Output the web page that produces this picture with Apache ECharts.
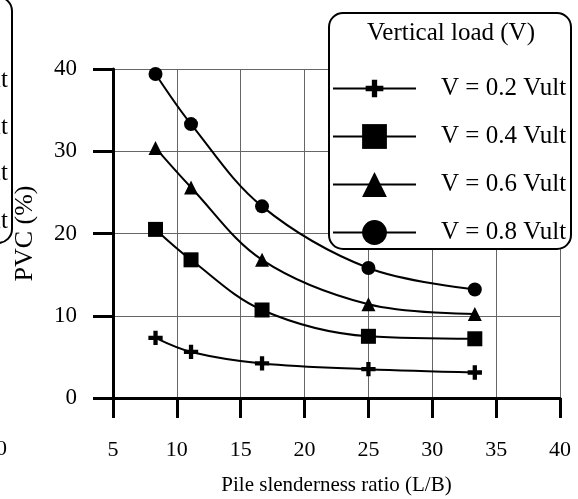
<!DOCTYPE html>
<html>
<head>
<meta charset="utf-8">
<script src="https://cdn.jsdelivr.net/npm/echarts@6/dist/echarts.min.js"></script>
<style>
  html, body { margin: 0; padding: 0; background: #fff; }
  #main { width: 578px; height: 499px; }
</style>
</head>
<body>
<div id="main"></div>
<script>
// slenderness ratios L/B
var xs = [8.33, 11.11, 16.67, 25, 33.33];
// PVC (%) per vertical load level
var v02 = [7.3, 5.6, 4.2, 3.5, 3.1];
var v04 = [20.5, 16.8, 10.7, 7.5, 7.2];
var v06 = [30.4, 25.6, 16.8, 11.4, 10.2];
var v08 = [39.4, 33.3, 23.3, 15.8, 13.2];
var names = ["V = 0.2 Vult", "V = 0.4 Vult", "V = 0.6 Vult", "V = 0.8 Vult"];

var font = "Liberation Serif";
// plus sign, with empty margin so it is drawn a bit smaller than the box
var plus = "path://M-4 -4M24 24M7 0H13V7H20V13H13V20H7V13H0V7H7Z";

function pairs(ys) {
  return xs.map(function (x, i) { return [x, ys[i]]; });
}

function mkSeries(name, ys, symbol, size) {
  return {
    name: name,
    type: "line",
    data: pairs(ys),
    smooth: 0.35,
    symbol: symbol,
    symbolSize: size,
    showSymbol: true,
    lineStyle: { color: "#000", width: 2 },
    itemStyle: { color: "#000" }
  };
}

var chart = echarts.init(document.getElementById("main"));
var option = {
  animation: false,
  textStyle: { fontFamily: font, color: "#000" },
  grid: { left: 113, right: 18, top: 69, bottom: 101, outerBoundsMode: "none", containLabel: false },
  xAxis: {
    type: "value",
    min: 5, max: 40, interval: 5,
    name: "Pile slenderness ratio (L/B)",
    nameLocation: "middle",
    nameGap: 77,
    nameTextStyle: { fontSize: 21, color: "#000", fontFamily: font },
    axisLine: { show: true, onZero: false, lineStyle: { color: "#000", width: 3 } },
    axisTick: { show: true, length: 20, lineStyle: { color: "#000", width: 3 } },
    axisLabel: { fontSize: 22, margin: 41, color: "#000", fontFamily: font },
    splitLine: { show: true, lineStyle: { color: "#666", width: 1 } }
  },
  yAxis: {
    type: "value",
    min: 0, max: 40, interval: 10,
    name: "PVC (%)",
    nameLocation: "middle",
    nameGap: 75,
    nameTextStyle: { fontSize: 26, color: "#000", fontFamily: font },
    axisLine: { show: true, onZero: false, lineStyle: { color: "#000", width: 3 } },
    axisTick: { show: true, length: 20, lineStyle: { color: "#000", width: 3 } },
    axisLabel: { fontSize: 23, margin: 36, color: "#000", fontFamily: font },
    splitLine: { show: true, lineStyle: { color: "#666", width: 1 } }
  },
  legend: {
    data: names,
    orient: "vertical",
    left: 332,
    top: 76,
    padding: 0,
    itemWidth: 83,
    itemHeight: 31,
    itemGap: 23,
    z: 20,
    textStyle: { fontSize: 25, color: "#000", fontFamily: font, padding: [0, 0, 0, 20] }
  },
  graphic: [
    // legend frame + title
    {
      type: "rect", z: 10,
      shape: { x: 329, y: 13, width: 242, height: 236, r: 14 },
      style: { fill: "#fff", stroke: "#000", lineWidth: 2 }
    },
    {
      type: "text", z: 11,
      style: { text: "Vertical load (V)", x: 451, y: 33, textAlign: "center", textVerticalAlign: "middle", font: "25px " + font, fill: "#000" }
    },
    // cut-off bits of the neighbouring panel on the left
    {
      type: "rect", z: 10,
      shape: { x: -240, y: -3, width: 252, height: 246, r: 14 },
      style: { fill: "none", stroke: "#000", lineWidth: 2 }
    },
    { type: "text", z: 11, style: { text: names[0], x: 8, y: 80, textAlign: "right", textVerticalAlign: "middle", font: "25px " + font, fill: "#000" } },
    { type: "text", z: 11, style: { text: names[1], x: 8, y: 127, textAlign: "right", textVerticalAlign: "middle", font: "25px " + font, fill: "#000" } },
    { type: "text", z: 11, style: { text: names[2], x: 8, y: 173, textAlign: "right", textVerticalAlign: "middle", font: "25px " + font, fill: "#000" } },
    { type: "text", z: 11, style: { text: names[3], x: 8, y: 221, textAlign: "right", textVerticalAlign: "middle", font: "25px " + font, fill: "#000" } },
    { type: "text", z: 11, style: { text: "40", x: 7, y: 449, textAlign: "right", textVerticalAlign: "middle", font: "22px " + font, fill: "#000" } }
  ],
  series: [
    mkSeries(names[0], v02, plus, 20),
    mkSeries(names[1], v04, "rect", 15),
    mkSeries(names[2], v06, "triangle", 14),
    mkSeries(names[3], v08, "circle", 14)
  ]
};
chart.setOption(option);
</script>
</body>
</html>
